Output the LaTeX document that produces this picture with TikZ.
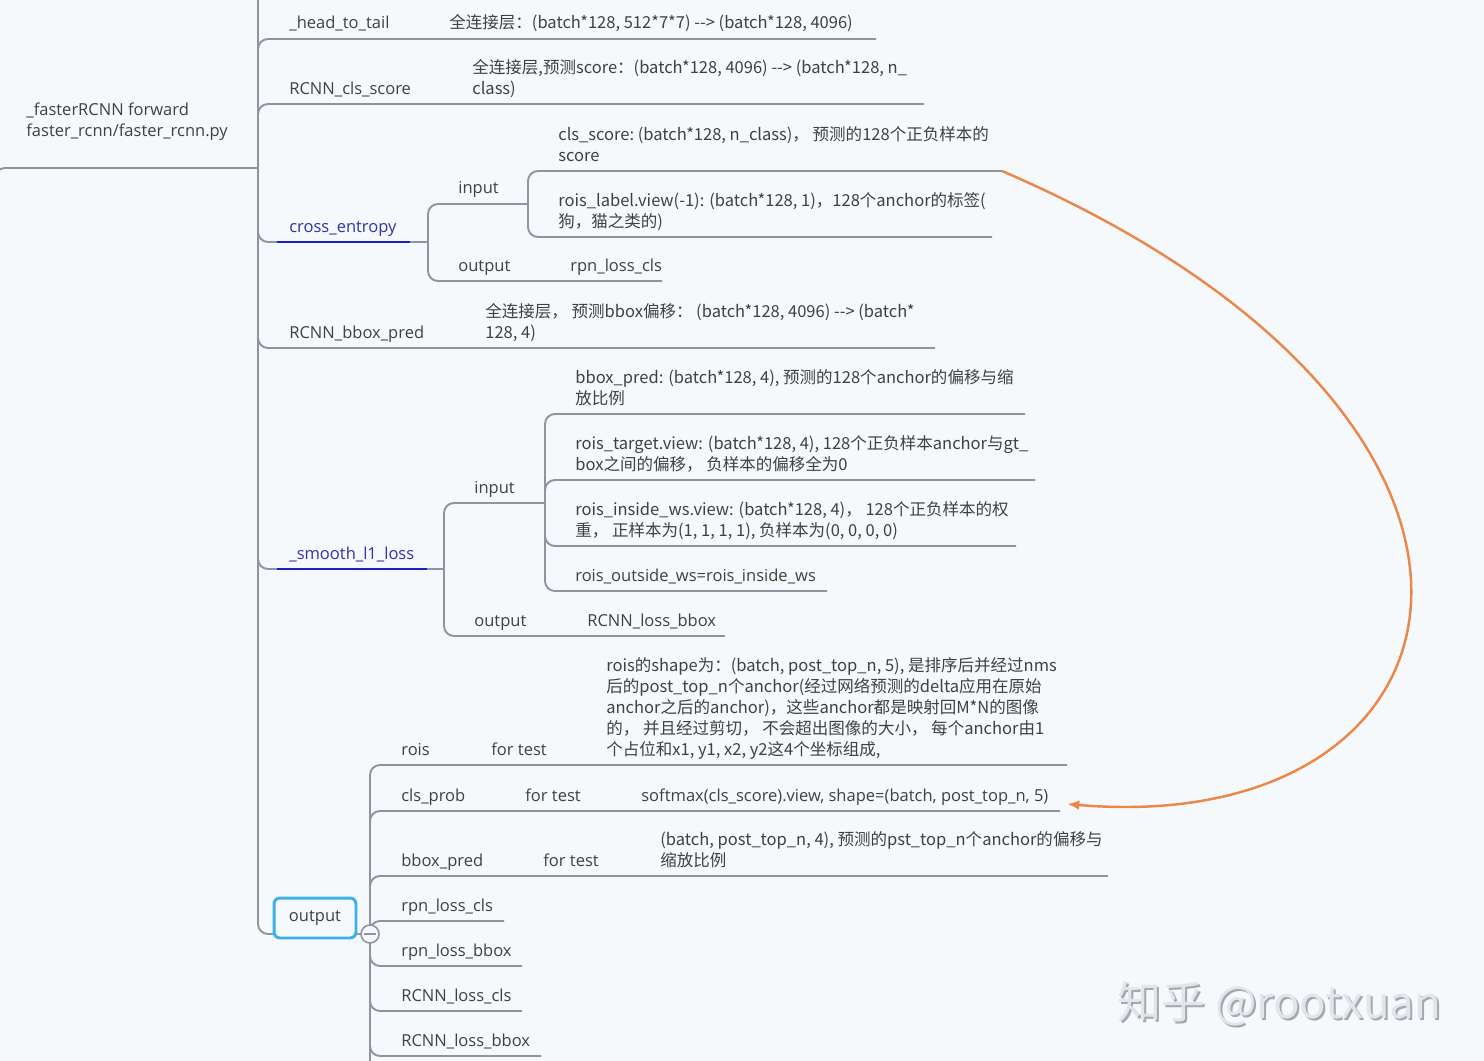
\documentclass[tikz,border=0pt]{standalone}
\usepackage{fontspec}
\setmainfont{Open Sans}
\newfontfamily\cjk{Noto Sans CJK SC}
\usetikzlibrary{arrows.meta,calc}
\definecolor{MapBg}{RGB}{245,249,252}
\definecolor{MapLine}{RGB}{143,148,158}
\definecolor{MapText}{RGB}{64,64,64}
\definecolor{MapBlue}{RGB}{30,30,200}
\definecolor{MapBlueText}{RGB}{50,50,170}
\definecolor{MapCyan}{RGB}{62,176,232}
\definecolor{MapOrange}{RGB}{236,134,74}
\definecolor{MarkLight}{RGB}{226,229,234}
\definecolor{MarkDark}{RGB}{165,168,174}
\begin{document}
\begin{tikzpicture}[x=0.02cm,y=-0.02cm,>=Latex,every node/.style={font=\fontsize{9.4}{11.95}\selectfont,text=MapText}]
\tikzset{topic/.style={anchor=base west,inner sep=0pt,align=left},zhtopic/.style={topic,font=\cjk\fontsize{9.4}{11.95}\selectfont},branch/.style={draw=MapLine,line width=1.1pt,rounded corners=2mm},hilite/.style={draw=MapBlue,line width=1.1pt},outbox/.style={draw=MapCyan,fill=MapBg,line width=1.7pt,rounded corners=1.2mm,minimum width=1.64cm,minimum height=0.8cm,inner sep=0pt},fold/.style={circle,draw=MapLine,fill=MapBg,line width=0.9pt,minimum size=0.36cm,inner sep=0pt},flow/.style={draw=MapOrange,line width=1.4pt,-{Latex[length=7pt,width=5.5pt]}},watermark/.style={anchor=base west,inner sep=0pt,font=\cjk\fontsize{25}{30}\selectfont}}
\fill[MapBg] (0,0) rectangle (1484,1061);
\useasboundingbox (0,0) rectangle (1484,1061);
\clip (0,0) rectangle (1484,1061);
\coordinate (root-in) at (-5,190);
\coordinate (root-j) at (258,168);
\coordinate (trunk-top) at (258,-10);
\coordinate (ht-e) at (876,39);
\coordinate (cls-e) at (924,104);
\coordinate (ce-j) at (428,242);
\coordinate (bbp-e) at (935,348);
\coordinate (sl-j) at (444,569);
\coordinate (outc) at (370,934);
\coordinate (cein-j) at (528,204);
\coordinate (ceout-e) at (662,281);
\coordinate (cein1-e) at (1002,171);
\coordinate (cein2-e) at (992,237);
\coordinate (slin-j) at (545,503);
\coordinate (slout-e) at (725,636);
\coordinate (slin1-e) at (1025,414);
\coordinate (slin2-e) at (1035,480);
\coordinate (slin3-e) at (1016,546);
\coordinate (slin4-e) at (827,591);
\coordinate (rois-e) at (1067,765);
\coordinate (prob-e) at (1060,811);
\coordinate (pred-e) at (1108,876);
\coordinate (rlc-e) at (504,921);
\coordinate (rlb-e) at (522,966);
\coordinate (rcls-e) at (522,1011);
\coordinate (rbox-e) at (541,1056);
\coordinate (out-bot) at (370,1075);
\coordinate (prob-tip) at (1067,804);
\draw[branch] (root-in) |- (root-j);
\draw[branch] (root-j) -- (trunk-top);
\draw[branch] (root-j) |- (ht-e);
\draw[branch] (root-j) |- (cls-e);
\draw[branch] (root-j) |- (ce-j);
\draw[branch] (root-j) |- (bbp-e);
\draw[branch] (root-j) |- (sl-j);
\draw[branch] (root-j) |- (outc);
\draw[branch] (ce-j) |- (cein-j);
\draw[branch] (ce-j) |- (ceout-e);
\draw[branch] (cein-j) |- (cein1-e);
\draw[branch] (cein-j) |- (cein2-e);
\draw[branch] (sl-j) |- (slin-j);
\draw[branch] (sl-j) |- (slout-e);
\draw[branch] (slin-j) |- (slin1-e);
\draw[branch] (slin-j) |- (slin2-e);
\draw[branch] (slin-j) |- (slin3-e);
\draw[branch] (slin-j) |- (slin4-e);
\draw[branch] (outc) |- (rois-e);
\draw[branch] (outc) |- (prob-e);
\draw[branch] (outc) |- (pred-e);
\draw[branch] (outc) |- (rlc-e);
\draw[branch] (outc) |- (rlb-e);
\draw[branch] (outc) |- (rcls-e);
\draw[branch] (outc) |- (rbox-e);
\draw[branch] (outc) -- (out-bot);
\node[topic] (root) at (26,136) {\_fasterRCNN forward\\faster\_rcnn/faster\_rcnn.py};
\node[topic] (ht) at (289,29) {\_head\_to\_tail};
\node[zhtopic] (htc) at (449,29) {全连接层：(batch*128, 512*7*7) -{}-> (batch*128, 4096)};
\node[topic] (cls) at (289,94) {RCNN\_cls\_score};
\node[zhtopic] (clsc) at (472,94) {全连接层,预测score：(batch*128, 4096) -{}-> (batch*128, n\_\\class)};
\node[topic,text=MapBlueText] (ce) at (289,232) {cross\_entropy};
\node[topic] (cein) at (458,194) {input};
\node[zhtopic] (cein1) at (558,161) {cls\_score:\ (batch*128, n\_class)，\ 预测的128个正负样本的\\score};
\node[zhtopic] (cein2) at (558,227) {rois\_label.view(-1): (batch*128, 1)，128个anchor的标签(\\狗，猫之类的)};
\node[topic] (ceout) at (458,271) {output};
\node[topic] (ceoutc) at (570,271) {rpn\_loss\_cls};
\node[topic] (bbp) at (289,338) {RCNN\_bbox\_pred};
\node[zhtopic] (bbpc) at (485,338) {全连接层，\ 预测bbox偏移：\ (batch*128, 4096) -{}-> (batch*\\128, 4)};
\node[topic,text=MapBlueText] (sl) at (289,559) {\_smooth\_l1\_loss};
\node[topic] (slin) at (474,493) {input};
\node[zhtopic] (slin1) at (575,404) {bbox\_pred: (batch*128, 4), 预测的128个anchor的偏移与缩\\放比例};
\node[zhtopic] (slin2) at (575,470) {rois\_target.view: (batch*128, 4), 128个正负样本anchor与gt\_\\box之间的偏移，\ 负样本的偏移全为0};
\node[zhtopic] (slin3) at (575,536) {rois\_inside\_ws.view: (batch*128, 4)，\ 128个正负样本的权\\重，\ 正样本为(1, 1, 1, 1), 负样本为(0, 0, 0, 0)};
\node[topic] (slin4) at (575,581) {rois\_outside\_ws=rois\_inside\_ws};
\node[topic] (slout) at (474,626) {output};
\node[topic] (sloutc) at (587,626) {RCNN\_loss\_bbox};
\node[outbox] (out) at (315,918) {output};
\node[fold] (fold) at (outc) {};
\draw[MapLine,line width=0.9pt] ([xshift=-0.12cm]fold.center) -- ([xshift=0.12cm]fold.center);
\node[topic] (rois) at (401,755) {rois};
\node[topic] (roist) at (491,755) {for test};
\node[zhtopic] (roisc) at (606,755) {rois的shape为：(batch, post\_top\_n, 5), 是排序后并经过nms\\后的post\_top\_n个anchor(经过网络预测的delta应用在原始\\anchor之后的anchor)，这些anchor都是映射回M*N的图像\\的，\ 并且经过剪切，\ 不会超出图像的大小，\ 每个anchor由1\\个占位和x1, y1, x2, y2这4个坐标组成,};
\node[topic] (prob) at (401,801) {cls\_prob};
\node[topic] (probt) at (525,801) {for test};
\node[topic] (probc) at (641,801) {softmax(cls\_score).view, shape=(batch, post\_top\_n, 5)};
\node[topic] (pred) at (401,866) {bbox\_pred};
\node[topic] (predt) at (543,866) {for test};
\node[zhtopic] (predc) at (660,866) {(batch, post\_top\_n, 4), 预测的pst\_top\_n个anchor的偏移与\\缩放比例};
\node[topic] (rlc) at (401,911) {rpn\_loss\_cls};
\node[topic] (rlb) at (401,956) {rpn\_loss\_bbox};
\node[topic] (rcls) at (401,1001) {RCNN\_loss\_cls};
\node[topic] (rbox) at (401,1046) {RCNN\_loss\_bbox};
\draw[hilite] ($(ce.west |- ce-j)+(-12,0)$) -- ($(ce.east |- ce-j)+(13,0)$);
\draw[hilite] ($(sl.west |- sl-j)+(-12,0)$) -- ($(sl.east |- sl-j)+(12,0)$);
\draw[flow] (cein1-e) .. controls (1580,420) and (1490,840) .. (prob-tip);
\node[watermark,text=MarkDark] (wm-s) at (1119,1020) {知乎 @rootxuan};
\node[watermark,text=MarkLight] (wm) at (1117,1018) {知乎 @rootxuan};
\end{tikzpicture}
\end{document}
